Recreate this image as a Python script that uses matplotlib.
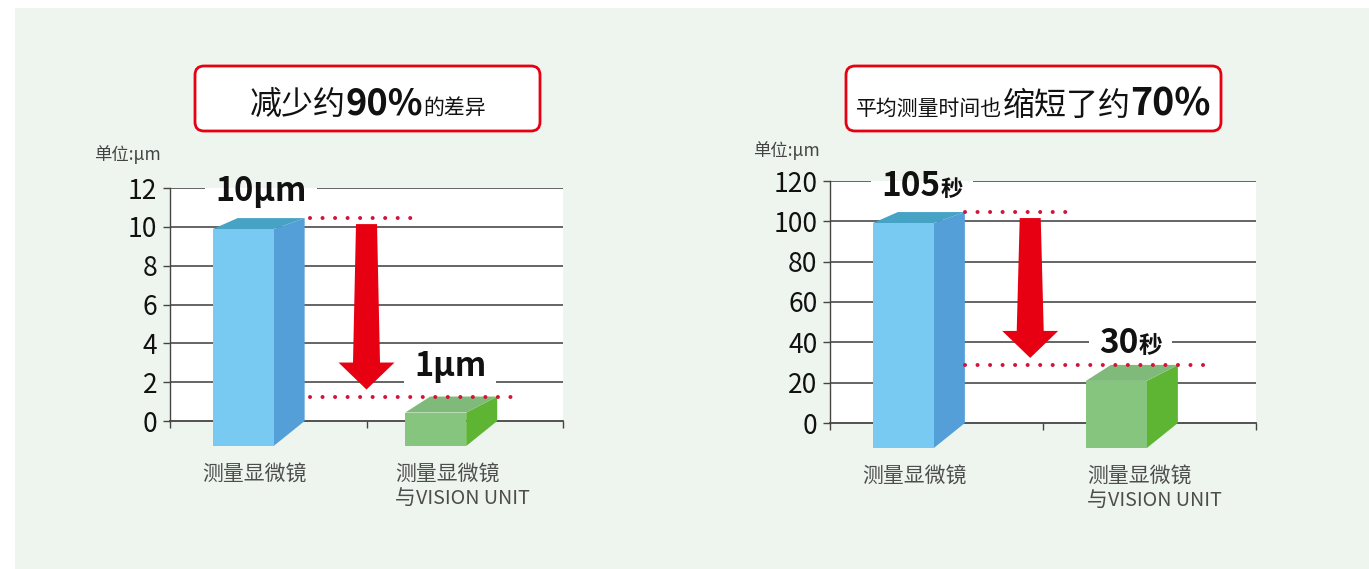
import re
import matplotlib
matplotlib.use('Agg')
import matplotlib.pyplot as plt
from matplotlib.patches import Rectangle, Polygon, FancyBboxPatch

plt.rcParams['font.family'] = ['Noto Sans CJK SC', 'DejaVu Sans']

W, H = 1369, 569

# ---- data ----
CATEGORIES = ['测量显微镜', '测量显微镜\n与VISION UNIT']

DIFF_VALUES = [10.45, 1.26]            # 单位: μm
DIFF_TICKS = [0, 2, 4, 6, 8, 10, 12]
DIFF_LABELS = [[('10μm', 23.5)], [('1μm', 23.5)]]

TIME_VALUES = [104.6, 28.8]            # 秒
TIME_TICKS = [0, 20, 40, 60, 80, 100, 120]
TIME_LABELS = [[('105', 24), ('秒', 16)], [('30', 24), ('秒', 17)]]

TITLE_LEFT = [('减少约', 23, 'medium'), ('90%', 26, 'bold'), ('的差异', 15, 'normal')]
TITLE_RIGHT = [('平均测量时间也', 15, 'normal'), ('缩短了约', 23, 'medium'), ('70%', 27, 'bold')]
UNIT_TEXT = '单位:μm'

# colours: front, side, top
BAR_COLOURS = [('#78CAF3', '#549FD7', '#46A3C6'),
               ('#86C57E', '#5EB533', '#80BA7B')]
RED = '#E60012'
DOT_RED = '#D2143A'
PANEL = '#EEF5EE'
GRID = '#3a3a3a'

BAR_W_PX = 61      # width of a bar face
DEPTH_PX = 31      # horizontal depth of the 3d look
DROP_PX = 25       # front face drops this much below the baseline
TOP_DROP_PX = [11, 16]


fig = plt.figure(figsize=(W / 100, H / 100), dpi=100, facecolor='white')
renderer = fig.canvas.get_renderer()

# background axes in pixel units (y downwards)
bg = fig.add_axes([0, 0, 1, 1], zorder=0)
bg.set_xlim(0, W)
bg.set_ylim(H, 0)
bg.axis('off')
bg.add_patch(Rectangle((15, 8), W - 15, H - 8, fc=PANEL, ec='none'))


def draw_runs(ax, xy, runs, ha='center', color='#111111', zorder=6, dy=0):
    """Text pieces of different sizes on one baseline."""
    arts, widths = [], []
    for run in runs:
        s, size = run[0], run[1]
        weight = run[2] if len(run) > 2 else 'bold'
        t = ax.annotate(s, xy=xy, xycoords='data', xytext=(0, dy),
                        textcoords='offset pixels', fontsize=size,
                        fontweight=weight, color=color, ha='left',
                        va='baseline', annotation_clip=False, zorder=zorder)
        arts.append(t)
        widths.append(t.get_window_extent(renderer).width)
    x = -sum(widths) / 2 if ha == 'center' else 0
    for t, w in zip(arts, widths):
        t.xyann = (x, dy)
        x += w
    return arts


def gap_behind(ax, arts, pad=10):
    """White patch (clipped to the axes) that breaks the grid line under a label."""
    bbs = [a.get_window_extent(renderer) for a in arts]
    x0 = min(b.x0 for b in bbs) - pad
    x1 = max(b.x1 for b in bbs) + pad
    y0 = min(b.y0 for b in bbs) - 3
    y1 = max(b.y1 for b in bbs) + 3
    (dx0, dy0), (dx1, dy1) = ax.transData.inverted().transform([(x0, y0), (x1, y1)])
    ax.add_patch(Rectangle((dx0, dy0), dx1 - dx0, dy1 - dy0,
                           fc='white', ec='none', zorder=1.5))


def draw_bar3d(ax, x, value, colours, top_drop):
    T = ax.transData
    cx, y0 = T.transform((x, 0))
    _, yt = T.transform((x, value))
    xl, xr = cx - BAR_W_PX / 2, cx + BAR_W_PX / 2
    d = DEPTH_PX
    front = [(xl - d, y0 - DROP_PX), (xr - d, y0 - DROP_PX),
             (xr - d, yt - top_drop), (xl - d, yt - top_drop)]
    side = [(xr - d, y0 - DROP_PX), (xr, y0), (xr, yt), (xr - d, yt - top_drop)]
    top = [(xl - d, yt - top_drop), (xr - d, yt - top_drop), (xr, yt), (xl - 6, yt)]
    inv = T.inverted()
    for pts, c in ((side, colours[1]), (top, colours[2]), (front, colours[0])):
        ax.add_patch(Polygon(inv.transform(pts), closed=True, fc=c, ec='none',
                             zorder=3, clip_on=False))


def draw_arrow(ax, x, v_from, v_to, inset=6, shaft=(21, 27), head_w=56, head_len=27):
    T = ax.transData
    cx, ytop = T.transform((x, v_from))
    _, ytip = T.transform((x, v_to))
    ytop -= inset
    ytip += inset + 1
    ybase = ytip + head_len
    pts = [(cx - shaft[0] / 2, ytop), (cx + shaft[0] / 2, ytop),
           (cx + shaft[1] / 2, ybase), (cx + head_w / 2, ybase), (cx, ytip),
           (cx - head_w / 2, ybase), (cx - shaft[1] / 2, ybase)]
    ax.add_patch(Polygon(T.inverted().transform(pts), closed=True, fc=RED,
                         ec='none', zorder=4, clip_on=False))


def split_latin(line, size):
    """CJK at full size, Latin runs a bit smaller (the original uses a narrow face)."""
    parts = re.findall(r'[\x00-\x7f]+|[^\x00-\x7f]+', line)
    return [(p, size - 0.8 if p.isascii() else size, 'normal') for p in parts]


def draw_chart(px_rect, values, bar_pos, ticks, labels, label_spots, arrow_x, dots,
               cat_spots, box, title, title_base, unit_xy):
    x0, y0, x1, y1 = px_rect
    ax = fig.add_axes([x0 / W, 1 - y1 / H, (x1 - x0) / W, (y1 - y0) / H], zorder=1)
    ax.set_facecolor('white')
    ax.set_xlim(0, 2)
    ax.set_ylim(0, ticks[-1])
    for s in ('top', 'right'):
        ax.spines[s].set_visible(False)
    ax.spines['left'].set_color('#444444')
    ax.spines['left'].set_linewidth(1.0)
    ax.spines['bottom'].set_color('#444444')
    ax.spines['bottom'].set_linewidth(1.3)
    ax.set_yticks(ticks)
    ax.set_yticklabels([str(t) for t in ticks], fontweight='medium')
    ax.set_xticks([0, 1, 2])
    ax.set_xticklabels([])
    ax.tick_params(axis='y', direction='out', length=5, width=1, color='#444444',
                   labelsize=19, pad=4, labelcolor='#111111')
    ax.tick_params(axis='x', direction='out', length=5, width=1, color='#444444')
    for t in ticks[1:]:
        ax.axhline(t, color=GRID, lw=1.1, zorder=1)

    for i, (p, v) in enumerate(zip(bar_pos, values)):
        draw_bar3d(ax, p, v, BAR_COLOURS[i], TOP_DROP_PX[i])

    # value labels with a break in the grid line behind them
    for runs, spot in zip(labels, label_spots):
        arts = draw_runs(ax, spot, runs)
        gap_behind(ax, arts)

    # dotted guide lines at both bar tops
    for (xa, xb), v in zip(dots, values):
        ax.plot([xa, xb], [v, v], color=DOT_RED, lw=2.9, ls=(0, (0.01, 3.1)),
                dash_capstyle='round', zorder=4, clip_on=False)

    draw_arrow(ax, arrow_x, values[0], values[1])

    # category labels below the bars
    for cat, (cx, ha) in zip(CATEGORIES, cat_spots):
        for k, line in enumerate(cat.split('\n')):
            draw_runs(ax, (cx, 0), split_latin(line, 15), ha=ha,
                      color='#4d4d4d', dy=-59 - 24 * k)

    # title box
    bx0, by0, bx1, by1 = box
    bg.add_patch(FancyBboxPatch((bx0, by0), bx1 - bx0, by1 - by0,
                                boxstyle='round,pad=0,rounding_size=9',
                                fc='white', ec=RED, lw=2.0))
    draw_runs(bg, ((bx0 + bx1) / 2, title_base), title)

    bg.text(unit_xy[0], unit_xy[1], UNIT_TEXT, fontsize=12.5, color='#444444',
            ha='left', va='center')
    return ax


draw_chart(px_rect=(170, 188, 563, 421), values=DIFF_VALUES, bar_pos=[0.53, 1.51],
           ticks=DIFF_TICKS,
           labels=DIFF_LABELS, label_spots=[(0.463, 11.33), (1.425, 2.32)],
           arrow_x=1.0, dots=[(0.71, 1.25), (0.71, 1.79)],
           cat_spots=[(0.43, 'center'), (1.145, 'left')],
           box=(195, 66, 540, 131), title=TITLE_LEFT, title_base=114,
           unit_xy=(94, 155))

draw_chart(px_rect=(830, 181, 1256, 423), values=TIME_VALUES, bar_pos=[0.49, 1.49],
           ticks=TIME_TICKS,
           labels=TIME_LABELS, label_spots=[(0.432, 112.5), (1.41, 34.7)],
           arrow_x=0.94, dots=[(0.634, 1.12), (0.634, 1.79)],
           cat_spots=[(0.394, 'center'), (1.207, 'left')],
           box=(846, 66, 1221, 131), title=TITLE_RIGHT, title_base=115,
           unit_xy=(753, 151))

fig.savefig('out.png', dpi=100, facecolor=fig.get_facecolor())
